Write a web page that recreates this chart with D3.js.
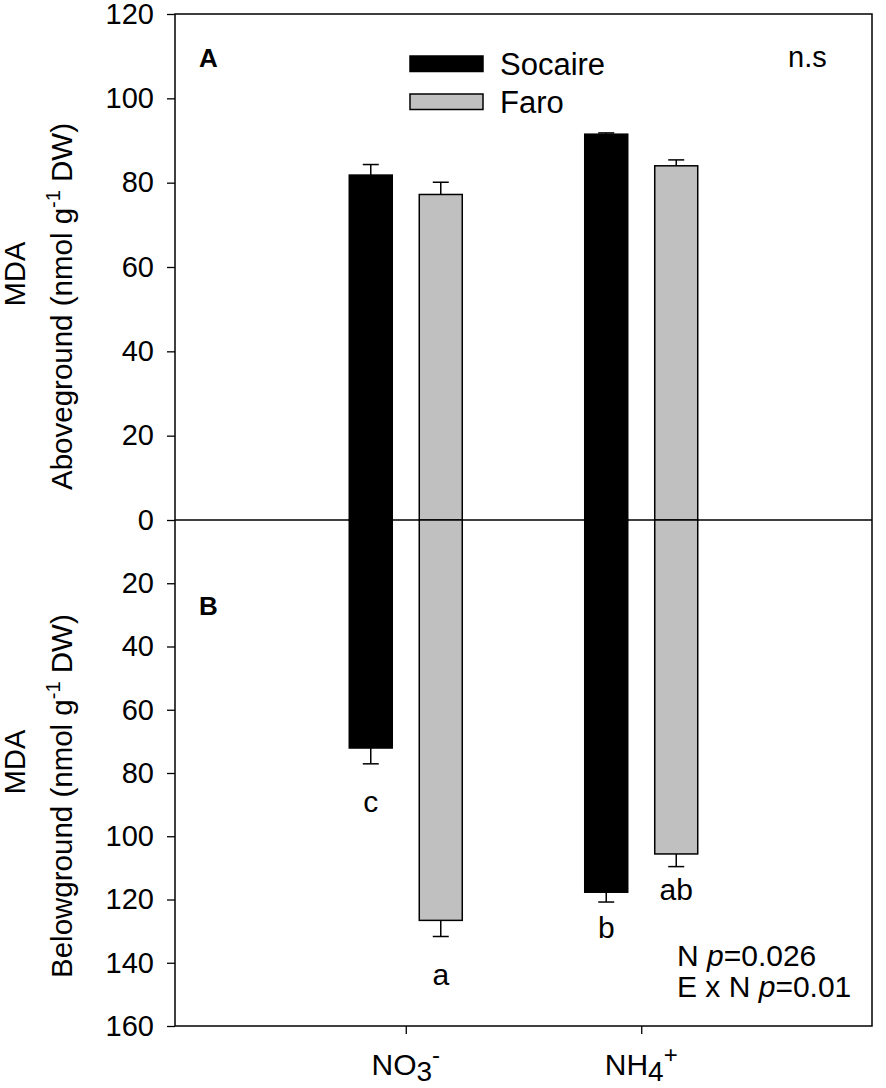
<!DOCTYPE html>
<html>
<head>
<meta charset="utf-8">
<script src="https://cdn.jsdelivr.net/npm/d3@7"></script>
<style>
  body { margin: 0; background: #fff; }
  svg text { font-family: Arial, "Liberation Sans", sans-serif; fill: #000; }
</style>
</head>
<body>
<svg id="chart" width="886" height="1088"></svg>
<script>
// data
var treatments = ["NO3", "NH4"];
var ecotypes = ["Socaire", "Faro"];
var colors = ["#000000", "#c0c0c0"];

// aboveground (panel A)
var aboveSocaire = [81.8, 91.5];
var aboveSocaireErr = [2.5, 0.3];
var aboveFaro = [77.2, 84.0];
var aboveFaroErr = [2.9, 1.4];

// belowground (panel B)
var belowSocaire = [72.1, 117.7];
var belowSocaireErr = [5.0, 3.1];
var belowFaro = [126.6, 105.6];
var belowFaroErr = [5.1, 4.0];

var belowLetters = [["c", "b"], ["a", "ab"]];

var aboveTicks = [0, 20, 40, 60, 80, 100, 120];
var belowTicks = [20, 40, 60, 80, 100, 120, 140, 160];

// layout
var plotL = 175, plotR = 872, plotT = 14, zeroY = 520, plotB = 1026;
var barW = 43, offset = 35;
var letterGap = [[48, 36], [48, 33]];

var svg = d3.select("#chart");

var x = d3.scalePoint().domain(treatments).range([plotL, plotR]).padding(0.98);
var yTop = d3.scaleLinear().domain([0, 120]).range([zeroY, plotT]);
var yBot = d3.scaleLinear().domain([0, 160]).range([zeroY, plotB]);

// axes
var axTop = svg.append("g")
    .attr("transform", "translate(" + plotL + ",0)")
    .call(d3.axisLeft(yTop).tickValues(aboveTicks).tickSize(8).tickPadding(13).tickSizeOuter(0));
var axBot = svg.append("g")
    .attr("transform", "translate(" + plotL + ",0)")
    .call(d3.axisLeft(yBot).tickValues(belowTicks).tickSize(8).tickPadding(13).tickSizeOuter(0));
var axX = svg.append("g")
    .attr("transform", "translate(0," + plotB + ")")
    .call(d3.axisBottom(x).tickSize(8).tickFormat("").tickSizeOuter(0));

[axTop, axBot, axX].forEach(function(a){
    a.selectAll("path").remove();
    a.selectAll("line").attr("stroke", "#000").attr("stroke-width", 1.3);
    a.selectAll("text").style("font-size", "29px");
});

// frame + zero line
svg.append("rect")
    .attr("x", plotL).attr("y", plotT)
    .attr("width", plotR - plotL).attr("height", plotB - plotT)
    .attr("fill", "none").attr("stroke", "#000").attr("stroke-width", 1.5);
svg.append("line")
    .attr("x1", plotL).attr("x2", plotR)
    .attr("y1", zeroY).attr("y2", zeroY)
    .attr("stroke", "#000").attr("stroke-width", 1.3);

function drawBars(vals, errs, idx, y, up){
    var g = svg.append("g");
    vals.forEach(function(v, i){
        var c = x(treatments[i]) + (idx === 0 ? -offset : offset);
        var yEnd = y(v);
        var yErr = y(v + errs[i]);
        g.append("line")
            .attr("x1", c).attr("x2", c)
            .attr("y1", yEnd).attr("y2", yErr)
            .attr("stroke", "#000").attr("stroke-width", 1.5);
        g.append("line")
            .attr("x1", c - 8).attr("x2", c + 8)
            .attr("y1", yErr).attr("y2", yErr)
            .attr("stroke", "#000").attr("stroke-width", 1.5);
        g.append("rect")
            .attr("x", c - barW / 2)
            .attr("y", up ? yEnd : zeroY)
            .attr("width", barW)
            .attr("height", Math.abs(yEnd - zeroY))
            .attr("fill", colors[idx])
            .attr("stroke", "#000").attr("stroke-width", 1.5);
    });
}

drawBars(aboveSocaire, aboveSocaireErr, 0, yTop, true);
drawBars(aboveFaro, aboveFaroErr, 1, yTop, true);
drawBars(belowSocaire, belowSocaireErr, 0, yBot, false);
drawBars(belowFaro, belowFaroErr, 1, yBot, false);

// significance letters below the bars
var belowVals = [belowSocaire, belowFaro];
var belowErrs = [belowSocaireErr, belowFaroErr];
ecotypes.forEach(function(e, k){
    treatments.forEach(function(t, i){
        svg.append("text")
            .attr("x", x(t) + (k === 0 ? -offset : offset))
            .attr("y", yBot(belowVals[k][i] + belowErrs[k][i]) + letterGap[k][i])
            .attr("text-anchor", "middle")
            .style("font-size", "30px")
            .text(belowLetters[k][i]);
    });
});

// x labels
var xl = svg.append("g").style("font-size", "30px");
var t1 = xl.append("text").attr("x", x("NO3")).attr("y", 1075).attr("text-anchor", "middle");
t1.append("tspan").text("NO");
t1.append("tspan").attr("dy", 6).style("font-size", "28px").text("3");
t1.append("tspan").attr("dy", -18).style("font-size", "24px").text("-");
var t2 = xl.append("text").attr("x", x("NH4")).attr("y", 1075).attr("text-anchor", "middle");
t2.append("tspan").text("NH");
t2.append("tspan").attr("dy", 6).style("font-size", "28px").text("4");
t2.append("tspan").attr("dy", -18).style("font-size", "24px").text("+");

// y titles
function yTitle(cy, word, start){
    svg.append("text")
        .attr("transform", "translate(25," + cy + ") rotate(-90)")
        .attr("text-anchor", "middle")
        .style("font-size", "29px")
        .text("MDA");
    var t = svg.append("text")
        .attr("transform", "translate(72," + start + ") rotate(-90)")
        .attr("text-anchor", "start")
        .style("font-size", "29.5px");
    t.append("tspan").text(word + " (nmol g");
    t.append("tspan").attr("dy", -12).style("font-size", "20px").text("-1");
    t.append("tspan").attr("dy", 12).text(" DW)");
}
yTitle(274, "Aboveground", 490);
yTitle(762, "Belowground", 978);

// panel labels
svg.append("text").attr("x", 199).attr("y", 67)
    .style("font-size", "26px").style("font-weight", "bold").text("A");
svg.append("text").attr("x", 199).attr("y", 615)
    .style("font-size", "26px").style("font-weight", "bold").text("B");

// n.s
svg.append("text").attr("x", 788).attr("y", 67)
    .style("font-size", "29px").text("n.s");

// legend
var lg = svg.append("g");
ecotypes.forEach(function(e, k){
    lg.append("rect")
        .attr("x", 410).attr("y", 56 + k * 38)
        .attr("width", 73).attr("height", 15.5)
        .attr("fill", colors[k])
        .attr("stroke", "#000").attr("stroke-width", 1.5);
    lg.append("text")
        .attr("x", 500).attr("y", 75 + k * 38)
        .style("font-size", "31px")
        .text(e);
});

// statistics
var st = svg.append("g").style("font-size", "30px");
var s1 = st.append("text").attr("x", 677).attr("y", 966);
s1.append("tspan").text("N ");
s1.append("tspan").style("font-style", "italic").text("p");
s1.append("tspan").text("=0.026");
var s2 = st.append("text").attr("x", 677).attr("y", 997);
s2.append("tspan").text("E x N ");
s2.append("tspan").style("font-style", "italic").text("p");
s2.append("tspan").text("=0.01");
</script>
</body>
</html>
